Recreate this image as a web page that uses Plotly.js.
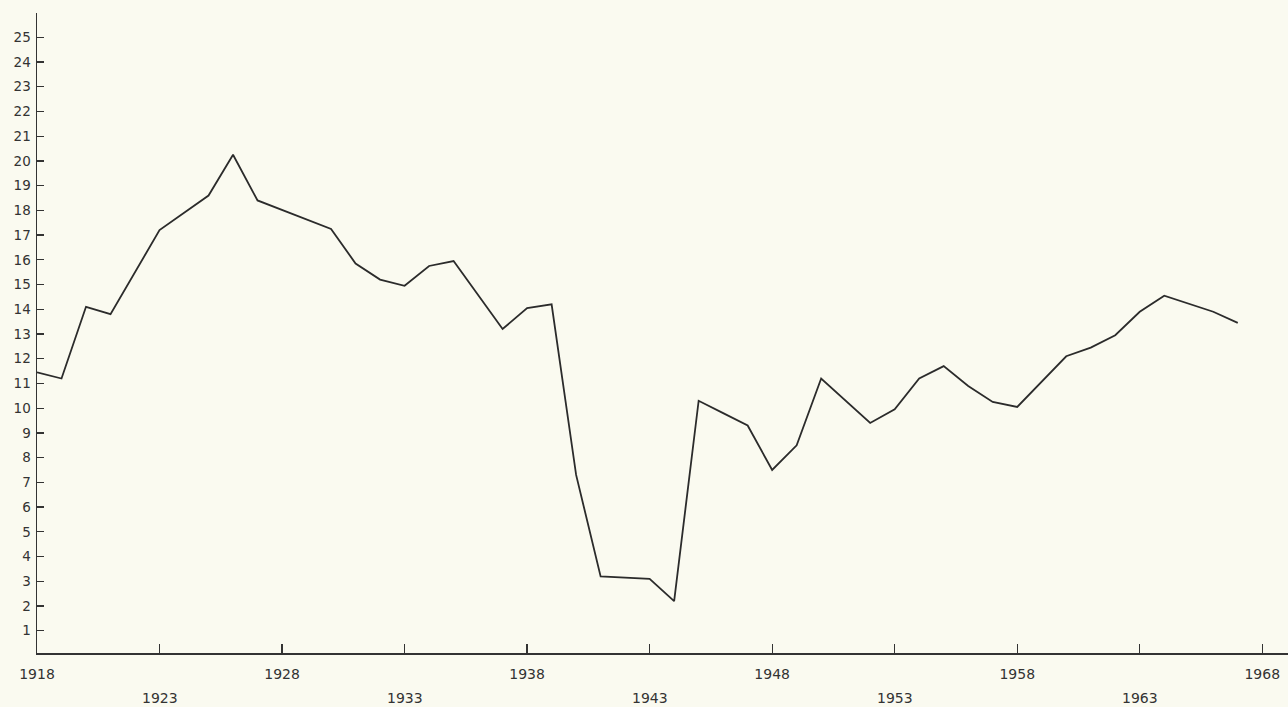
<!DOCTYPE html>
<html>
<head>
<meta charset="utf-8">
<script src="https://cdn.plot.ly/plotly-3.0.1.min.js"></script>
<style>
  html, body { margin: 0; padding: 0; background: #fafaf0; }
  #chart { width: 1288px; height: 707px; }
</style>
</head>
<body>
<div id="chart"></div>
<script>
// Data
const years = [1918, 1919, 1920, 1921, 1923, 1925, 1926, 1927, 1930, 1931, 1932, 1933, 1934, 1935,
               1937, 1938, 1939, 1940, 1941, 1943, 1944, 1945, 1946, 1947, 1948, 1949, 1950, 1952,
               1953, 1954, 1955, 1956, 1957, 1958, 1960, 1961, 1962, 1963, 1964, 1966, 1967];
const values = [11.45, 11.2, 14.1, 13.8, 17.2, 18.6, 20.25, 18.4, 17.25, 15.85, 15.2, 14.95, 15.75, 15.95,
                13.2, 14.05, 14.2, 7.3, 3.2, 3.1, 2.2, 10.3, 9.8, 9.3, 7.5, 8.5, 11.2, 9.4,
                9.95, 11.2, 11.7, 10.9, 10.25, 10.05, 12.1, 12.45, 12.95, 13.9, 14.55, 13.9, 13.45];

// Axis ticks
const xTickYears = [1918, 1923, 1928, 1933, 1938, 1943, 1948, 1953, 1958, 1963, 1968];
const xUpperLabels = [1918, 1928, 1938, 1948, 1958, 1968];
const xLowerLabels = [1923, 1933, 1943, 1953, 1963];
const yTickValues = [1,2,3,4,5,6,7,8,9,10,11,12,13,14,15,16,17,18,19,20,21,22,23,24,25];

const labelFont = { family: 'DejaVu Sans, sans-serif', size: 14, color: '#333' };

const trace = {
  x: years,
  y: values,
  type: 'scatter',
  mode: 'lines',
  line: { color: '#2b2b2b', width: 1.8 },
  hoverinfo: 'x+y'
};

const annotations = xLowerLabels.map(yr => ({
  x: yr, y: 0, xref: 'x', yref: 'paper',
  text: String(yr), showarrow: false,
  yanchor: 'top', yshift: -35,
  font: labelFont
}));

const layout = {
  width: 1288,
  height: 707,
  margin: { l: 37, r: 0, t: 13, b: 54 },
  paper_bgcolor: '#fafaf0',
  plot_bgcolor: '#fafaf0',
  showlegend: false,
  xaxis: {
    range: [1918, 1969.05],
    tickmode: 'array',
    tickvals: xTickYears,
    ticktext: xTickYears.map(y => xUpperLabels.includes(y) ? String(y) : ''),
    ticks: 'inside',
    ticklen: 9,
    tickwidth: 1.3,
    tickcolor: '#333',
    ticklabelstandoff: 8,
    showline: true,
    linecolor: '#333',
    linewidth: 1.5,
    showgrid: false,
    zeroline: false,
    tickfont: labelFont,
    fixedrange: true
  },
  yaxis: {
    range: [0.1, 25.98],
    tickmode: 'array',
    tickvals: yTickValues,
    ticktext: yTickValues.map(String),
    ticks: 'inside',
    ticklen: 7,
    tickwidth: 1.3,
    tickcolor: '#333',
    ticklabelstandoff: 2,
    showline: true,
    linecolor: '#333',
    linewidth: 1.5,
    showgrid: false,
    zeroline: false,
    tickfont: { family: 'DejaVu Sans, sans-serif', size: 13.5, color: '#333' },
    fixedrange: true
  },
  annotations: annotations
};

Plotly.newPlot('chart', [trace], layout, { displayModeBar: false, staticPlot: true });
</script>
</body>
</html>
